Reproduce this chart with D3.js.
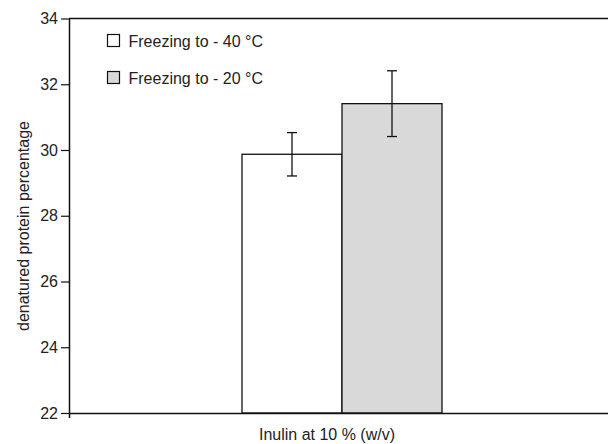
<!DOCTYPE html>
<html>
<head>
<meta charset="utf-8">
<script src="https://cdn.jsdelivr.net/npm/d3@7"></script>
<style>
  body { margin: 0; background: #fff; }
  svg { display: block; font-family: "Liberation Sans", Arial, sans-serif; }
  .tick text { font-size: 16px; fill: #222; }
  .axis-label { font-size: 16px; fill: #222; }
  .legend text { font-size: 16px; fill: #222; }
</style>
</head>
<body>
<svg id="chart"></svg>
<script>
// Data
const categories = ["Inulin at 10 % (w/v)"];
const series = ["Freezing to - 40 °C", "Freezing to - 20 °C"];
const means = [29.87, 31.41];
const errors = [0.66, 1.0];
const yTicks = [22, 24, 26, 28, 30, 32, 34];

const fills = ["#ffffff", "#d9d9d9"];

const W = 608, H = 444;
const plot = { left: 69, right: 615, top: 18.5, bottom: 413 };

const svg = d3.select("#chart").attr("width", W).attr("height", H);

// Scales
const x0 = d3.scaleBand().domain(categories).range([plot.left, plot.right]).padding(0);
const x1 = d3.scaleBand().domain(series).range([0, x0.bandwidth()])
  .paddingInner(0).paddingOuter(1.73);
const y = d3.scaleLinear().domain([22, 34]).range([plot.bottom, plot.top]);

// Top frame line
svg.append("line")
  .attr("x1", plot.left).attr("x2", W)
  .attr("y1", plot.top).attr("y2", plot.top)
  .attr("stroke", "#111").attr("stroke-width", 1.5);

// Bars
const rows = series.map((s, i) => ({ s, mean: means[i], err: errors[i], fill: fills[i] }));
const g = svg.append("g").attr("transform", `translate(${x0(categories[0])},0)`);

g.selectAll("rect.bar")
  .data(rows)
  .join("rect")
  .attr("class", "bar")
  .attr("x", d => x1(d.s))
  .attr("width", x1.bandwidth())
  .attr("y", d => y(d.mean))
  .attr("height", d => y(22) - y(d.mean))
  .attr("fill", d => d.fill)
  .attr("stroke", "#111")
  .attr("stroke-width", 1.3);

// Error bars
const cx = d => x1(d.s) + x1.bandwidth() / 2;
const eb = g.selectAll("g.err").data(rows).join("g").attr("class", "err")
  .attr("stroke", "#111").attr("stroke-width", 1.3);
eb.append("line")
  .attr("x1", cx).attr("x2", cx)
  .attr("y1", d => y(d.mean + d.err))
  .attr("y2", d => y(d.mean - d.err));
eb.append("line")
  .attr("x1", d => cx(d) - 5).attr("x2", d => cx(d) + 5)
  .attr("y1", d => y(d.mean + d.err))
  .attr("y2", d => y(d.mean + d.err));
eb.append("line")
  .attr("x1", d => cx(d) - 5).attr("x2", d => cx(d) + 5)
  .attr("y1", d => y(d.mean - d.err))
  .attr("y2", d => y(d.mean - d.err));

// Y axis
const gy = svg.append("g")
  .attr("transform", `translate(${plot.left},0)`)
  .call(d3.axisLeft(y).tickValues(yTicks).tickSize(8).tickPadding(3).tickSizeOuter(0));
gy.select(".domain").attr("stroke", "#111").attr("stroke-width", 1.5);
gy.selectAll(".tick line").attr("stroke", "#111").attr("stroke-width", 1.2);

// X axis
const gx = svg.append("g")
  .attr("transform", `translate(0,${plot.bottom})`)
  .call(d3.axisBottom(x0).tickSize(0).tickFormat("").tickSizeOuter(5));
gx.select(".domain").attr("stroke", "#111").attr("stroke-width", 1.5);

// Axis labels
svg.append("text")
  .attr("class", "axis-label")
  .attr("text-anchor", "middle")
  .attr("x", 327)
  .attr("y", 440)
  .text(categories[0]);

svg.append("text")
  .attr("class", "axis-label")
  .attr("text-anchor", "middle")
  .attr("transform", "rotate(-90)")
  .attr("x", -226)
  .attr("y", 29)
  .text("denatured protein percentage");

// Legend
const legend = svg.append("g").attr("class", "legend");
const li = legend.selectAll("g").data(rows).join("g")
  .attr("transform", (d, i) => `translate(107.5,${34.5 + i * 37})`);
li.append("rect")
  .attr("width", 12).attr("height", 12)
  .attr("fill", d => d.fill)
  .attr("stroke", "#111").attr("stroke-width", 1.2);
li.append("text")
  .attr("x", 21)
  .attr("y", 12.5)
  .text(d => d.s);
</script>
</body>
</html>
